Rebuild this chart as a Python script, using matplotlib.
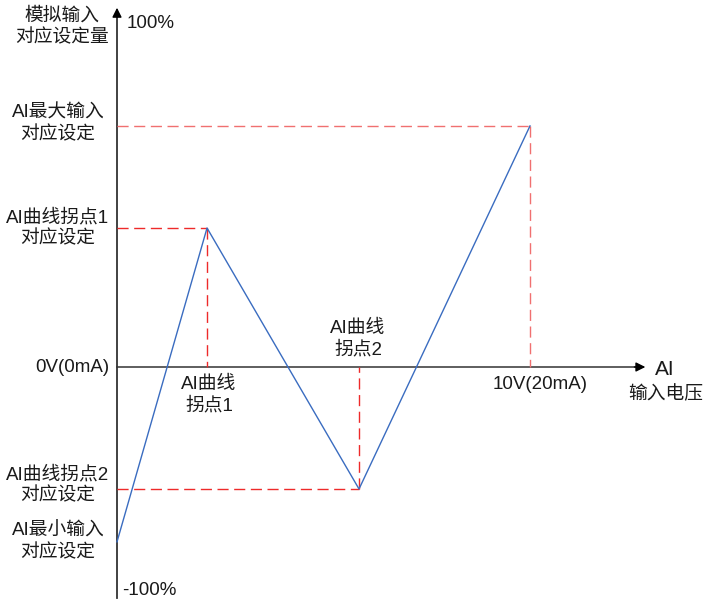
import matplotlib.pyplot as plt

plt.rcParams['font.family'] = ['Liberation Sans', 'Noto Sans CJK SC', 'DejaVu Sans']

# AI input (V) and corresponding setting (schematic units)
ai_x = [0.0, 2.18, 5.86, 10.0]
ai_y = [-48.3, 38.4, -33.7, 66.6]

# reference points with dashed guides: (x, y)
guides = [(2.18, 38.4), (5.86, -33.7), (10.0, 66.6)]
guide_colors = ['#ee2a2a', '#ee2a2a', '#f07070']

y_top = 100.0
y_bottom = -63.8
x_end = 12.86

fig = plt.figure(figsize=(7.04, 6.03), dpi=100)
ax = fig.add_axes([0, 0, 1, 1])
ax.set_xlim(-2.833, 14.213)
ax.set_ylim(-65.19, 101.38)
ax.axis('off')

# axes with arrows
ax.plot([0, 0], [y_bottom, y_top - 3], color='#333333', lw=1.3)
ax.plot([0, x_end - 0.3], [0, 0], color='#333333', lw=1.1)
ax.annotate('', xy=(0, y_top), xytext=(0, y_top - 4),
            arrowprops=dict(arrowstyle='-|>', color='black', lw=1, mutation_scale=14))
ax.annotate('', xy=(x_end, 0), xytext=(x_end - 0.4, 0),
            arrowprops=dict(arrowstyle='-|>', color='black', lw=1, mutation_scale=14))

# dashed guide lines
for (gx, gy), c in zip(guides, guide_colors):
    ax.plot([0, gx], [gy, gy], color=c, lw=1, dashes=(8, 4))
    ax.plot([gx, gx], [gy, 0], color=c, lw=1, dashes=(8, 4))

# the curve
ax.plot(ai_x, ai_y, color='#3a6cc0', lw=1)

fs = 13.5
tc = '#1a1a1a'
ls = 1.3


def label(x, y, s, ha='center', size=fs):
    ax.text(x, y, s, ha=ha, va='center', fontsize=size, color=tc, linespacing=ls)


def px(xp, yp):
    return (xp - 117) / 41.3, (367 - yp) / 3.62


label(*px(62, 27), '模拟输入\n对应设定量')
label(*px(127, 24), '100%', ha='left')
label(*px(58, 124), 'AI最大输入\n对应设定')
label(*px(58, 228), 'AI曲线拐点1\n对应设定')
label(*px(109, 367), '0V(0mA)', ha='right')
label(*px(209, 395), 'AI曲线\n拐点1')
label(*px(358, 339), 'AI曲线\n拐点2')
label(*px(58, 485), 'AI曲线拐点2\n对应设定')
label(*px(58, 542), 'AI最小输入\n对应设定')
label(*px(122, 590), '-100%', ha='left')
label(*px(540, 384), '10V(20mA)')
label(*px(655, 369), 'AI', ha='left', size=15)
label(*px(666, 394), '输入电压')

plt.savefig('out.png', dpi=100)
